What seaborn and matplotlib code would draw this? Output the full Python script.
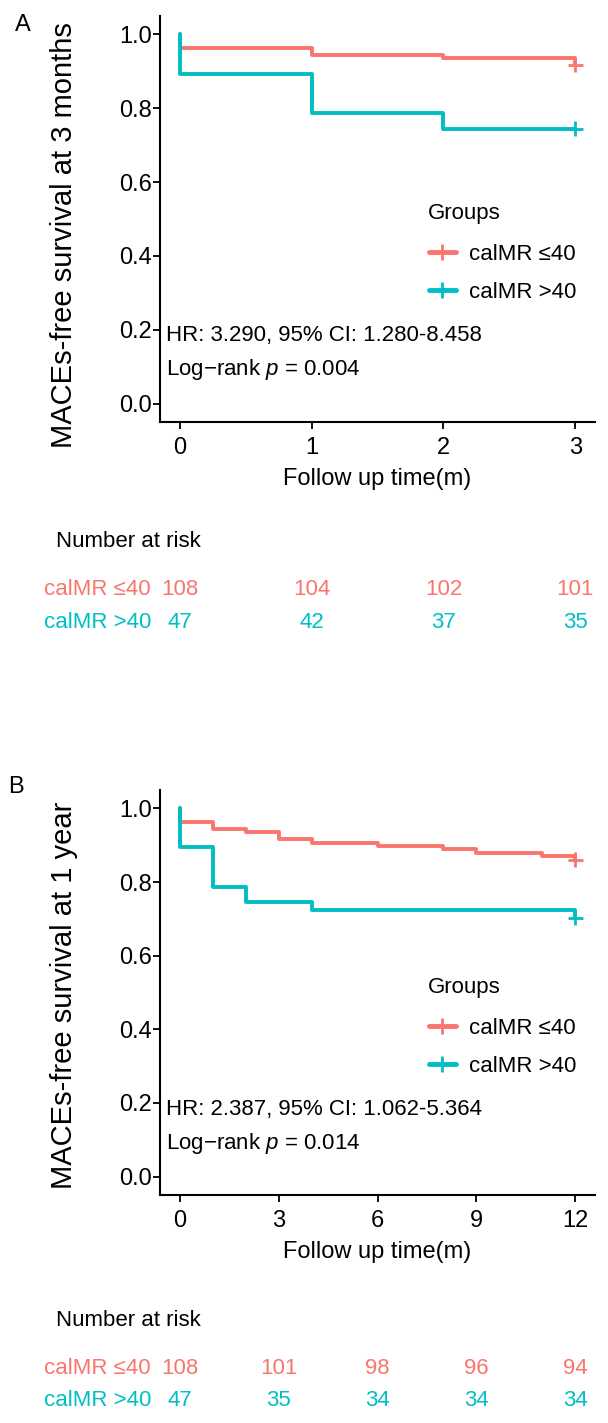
import matplotlib
matplotlib.use("Agg")
import matplotlib.pyplot as plt
import matplotlib.transforms as mtransforms
from matplotlib.lines import Line2D
import pandas as pd
import seaborn as sns

# Kaplan-Meier step points (time in months, survival)
groups = ["calMR \u226440", "calMR >40"]
colors = ["#F8766D", "#00BFC4"]

a_low_time = [0, 0, 1, 2, 3]
a_low_surv = [1.0, 0.963, 0.944, 0.935, 0.917]
a_high_time = [0, 0, 1, 2, 3]
a_high_surv = [1.0, 0.894, 0.787, 0.745, 0.745]

b_low_time = [0, 0, 1, 2, 3, 4, 6, 8, 9, 11, 12]
b_low_surv = [1.0, 0.963, 0.944, 0.935, 0.917, 0.907, 0.898, 0.889, 0.880, 0.870, 0.861]
b_high_time = [0, 0, 1, 2, 4, 12]
b_high_surv = [1.0, 0.894, 0.787, 0.745, 0.723, 0.702]

# number at risk tables
a_risk_times = [0, 1, 2, 3]
a_risk_low = [108, 104, 102, 101]
a_risk_high = [47, 42, 37, 35]

b_risk_times = [0, 3, 6, 9, 12]
b_risk_low = [108, 101, 98, 96, 94]
b_risk_high = [47, 35, 34, 34, 34]

a_stats = ["HR: 3.290, 95% CI: 1.280-8.458", "Log\u2212rank $p$ = 0.004"]
b_stats = ["HR: 2.387, 95% CI: 1.062-5.364", "Log\u2212rank $p$ = 0.014"]

sns.set_style("white")
plt.rcParams["font.family"] = ["Liberation Sans", "DejaVu Sans"]
plt.rcParams["mathtext.fontset"] = "custom"
plt.rcParams["mathtext.rm"] = "Liberation Sans"
plt.rcParams["mathtext.it"] = "Liberation Sans:italic"
plt.rcParams["text.color"] = "black"
plt.rcParams["axes.labelcolor"] = "black"

FS = 16
W, H = 608, 1423
fig = plt.figure(figsize=(W / 100, H / 100), dpi=100)


def px(x, y):
    # pixel position -> figure fraction
    return x / W, 1 - y / H


def draw_panel(top, bottom, letter, letter_xy, ylabel, ylabel_y, times, survs, xmax,
               xticks, stats, risk_times, risk_rows, risk_top):
    left, right = 160, 595
    ax = fig.add_axes([left / W, 1 - bottom / H, (right - left) / W, (bottom - top) / H])

    # step curves
    df = pd.concat([pd.DataFrame({"time": t, "surv": s, "group": g})
                    for t, s, g in zip(times, survs, groups)])
    sns.lineplot(data=df, x="time", y="surv", hue="group", palette=colors,
                 estimator=None, sort=False, drawstyle="steps-post",
                 linewidth=2.8, legend=False, ax=ax)
    cens = pd.DataFrame({"time": [t[-1] for t in times], "surv": [s[-1] for s in survs],
                         "group": groups})
    sns.scatterplot(data=cens, x="time", y="surv", hue="group", palette=colors,
                    marker="+", s=110, linewidth=2, legend=False, ax=ax, zorder=5)

    pad = xmax * 0.05
    ax.set_xlim(-pad, xmax + pad)
    ax.set_ylim(-0.05, 1.05)
    ax.set_xticks(xticks)
    ax.set_yticks([0, 0.2, 0.4, 0.6, 0.8, 1.0])
    ax.set_yticklabels(["0.0", "0.2", "0.4", "0.6", "0.8", "1.0"])
    ax.tick_params(labelsize=FS + 1, length=5, width=1.3, color="black", pad=1,
                   left=True, bottom=True, labelcolor="black")
    ax.tick_params(axis="x", pad=6)
    ax.set_xlabel("Follow up time(m)", fontsize=FS + 1, labelpad=6)
    ax.set_ylabel("")
    sns.despine(ax=ax)
    for sp in ["left", "bottom"]:
        ax.spines[sp].set_color("black")
        ax.spines[sp].set_linewidth(1.5)

    cx, cy = px(64, ylabel_y)
    fig.text(cx, cy, ylabel, rotation=90, ha="center", va="center", fontsize=21)

    lx, ly = px(*letter_xy)
    fig.text(lx, ly, letter, ha="left", va="center", fontsize=17)

    # HR / log-rank text
    h = bottom - top
    ax.text((166 - left) / (right - left), (bottom - (top + 319)) / h, stats[0],
            transform=ax.transAxes, fontsize=FS, ha="left", va="center")
    ax.text((166 - left) / (right - left), (bottom - (top + 353)) / h, stats[1],
            transform=ax.transAxes, fontsize=FS, ha="left", va="center")

    # legend: title drawn separately, entries below it
    tx, ty = px(428, top + 197)
    fig.text(tx, ty, "Groups", ha="left", va="center", fontsize=FS)
    handles = [Line2D([], [], color=c, lw=3.5, marker="+", markersize=11, mew=2)
               for c in colors]
    ax.legend(handles, groups, loc="upper left",
              bbox_to_anchor=px(429, top + 228), bbox_transform=fig.transFigure,
              frameon=False, fontsize=FS, handlelength=1.2,
              handletextpad=0.6, labelspacing=0.75, borderpad=0, borderaxespad=0,
              numpoints=1)

    # number at risk table
    nx, ny = px(56, risk_top)
    fig.text(nx, ny, "Number at risk", ha="left", va="center", fontsize=FS)
    trans = mtransforms.blended_transform_factory(ax.transData, fig.transFigure)
    for i, (row, g, c) in enumerate(zip(risk_rows, groups, colors)):
        ry = 1 - (risk_top + 48 + i * 32) / H
        fig.text(151 / W, ry, g, ha="right", va="center", fontsize=FS, color=c)
        for t, n in zip(risk_times, row):
            ax.text(t, ry, str(n), transform=trans, ha="center", va="center",
                    fontsize=FS, color=c, clip_on=False)
    return ax


draw_panel(16, 422, "A", (15, 25), "MACEs-free survival at 3 months", 235,
           [a_low_time, a_high_time], [a_low_surv, a_high_surv], 3, [0, 1, 2, 3],
           a_stats, a_risk_times, [a_risk_low, a_risk_high], 542)

draw_panel(790, 1195, "B", (8, 787), "MACEs-free survival at 1 year", 995,
           [b_low_time, b_high_time], [b_low_surv, b_high_surv], 12, [0, 3, 6, 9, 12],
           b_stats, b_risk_times, [b_risk_low, b_risk_high], 1320)

fig.savefig("out.png", dpi=100)
